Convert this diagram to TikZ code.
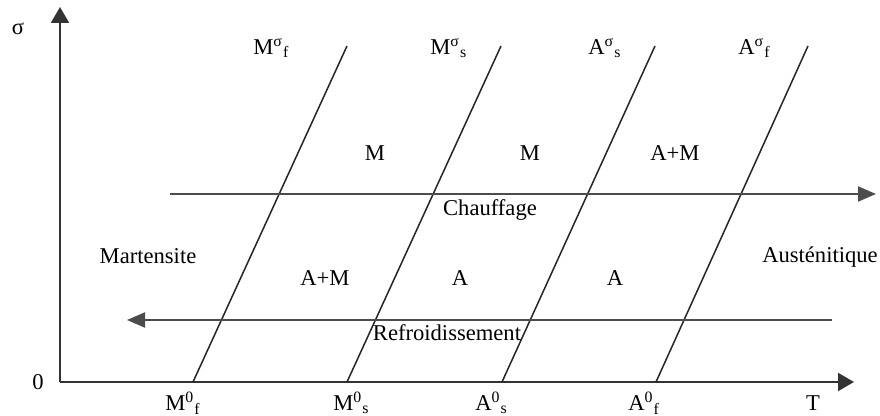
\documentclass[tikz,border=0pt]{standalone}
\usepackage{fontspec}
\setmainfont{Liberation Serif}
\usetikzlibrary{arrows.meta}
\tikzstyle{axis} = [
    line width=1pt,
    draw=black!80,
    -{Triangle[length=8pt,width=9pt]}
]
\tikzstyle{flow} = [
    line width=1pt,
    draw=black!70,
    -{Triangle[length=9pt,width=7.5pt]}
]
\tikzstyle{transition} = [
    line width=0.75pt,
    draw=black!85
]
\tikzstyle{txt} = [
    inner sep=0pt,
    font=\fontsize{11.3}{13}\selectfont
]

\begin{document}
\begin{tikzpicture}[x=0.5pt,y=-0.5pt]
\useasboundingbox (0,0) rectangle (880,416);

% axes
\coordinate (origin) at (60,382);
\coordinate (sigmatip) at (60,7);
\coordinate (ttip) at (854,382);
\draw [axis] (origin) -- (sigmatip);
\draw [axis] (origin) -- (ttip);
\node (sigma) [txt] at (18,29) {σ};
\node (zero) [txt] at (38,382) {0};
\node (temp) [txt] at (813,403) {T};

% transformation lines
\coordinate (mfbot) at (193,382);
\coordinate (mftop) at (347,46);
\coordinate (msbot) at (347,382);
\coordinate (mstop) at (501,46);
\coordinate (asbot) at (502,382);
\coordinate (astop) at (655,46);
\coordinate (afbot) at (656,382);
\coordinate (aftop) at (808,46);
\draw [transition] (mfbot) -- (mftop);
\draw [transition] (msbot) -- (mstop);
\draw [transition] (asbot) -- (astop);
\draw [transition] (afbot) -- (aftop);

\node (mfsig) [txt, anchor=west] at (253,48)
{M\textsuperscript{σ}\textsubscript{f}};
\node (mssig) [txt, anchor=west] at (430,48)
{M\textsuperscript{σ}\textsubscript{s}};
\node (assig) [txt, anchor=west] at (588,48)
{A\textsuperscript{σ}\textsubscript{s}};
\node (afsig) [txt, anchor=west] at (738,48)
{A\textsuperscript{σ}\textsubscript{f}};

\node (mfzero) [txt, anchor=west] at (165,403)
{M\textsuperscript{0}\textsubscript{f}};
\node (mszero) [txt, anchor=west] at (333,403)
{M\textsuperscript{0}\textsubscript{s}};
\node (aszero) [txt, anchor=west] at (475,403)
{A\textsuperscript{0}\textsubscript{s}};
\node (afzero) [txt, anchor=west] at (628,403)
{A\textsuperscript{0}\textsubscript{f}};

% heating / cooling paths
\coordinate (heatstart) at (170,194);
\coordinate (heatend) at (876,194);
\coordinate (coolstart) at (832,320);
\coordinate (coolend) at (127,320);
\draw [flow] (heatstart) -- (heatend);
\draw [flow] (coolstart) -- (coolend);
\node (heat) [txt] at (490,210) {Chauffage};
\node (cool) [txt] at (447,333) {Refroidissement};

% phases
\node (mart) [txt] at (148,256) {Martensite};
\node (aust) [txt] at (820,257) {Austénitique};
\node (upm1) [txt] at (375,153) {M};
\node (upm2) [txt] at (530,153) {M};
\node (upam) [txt] at (675,153) {A+M};
\node (lowam) [txt] at (325,278) {A+M};
\node (lowa1) [txt] at (460,278) {A};
\node (lowa2) [txt] at (615,278) {A};

\end{tikzpicture}
\end{document}
